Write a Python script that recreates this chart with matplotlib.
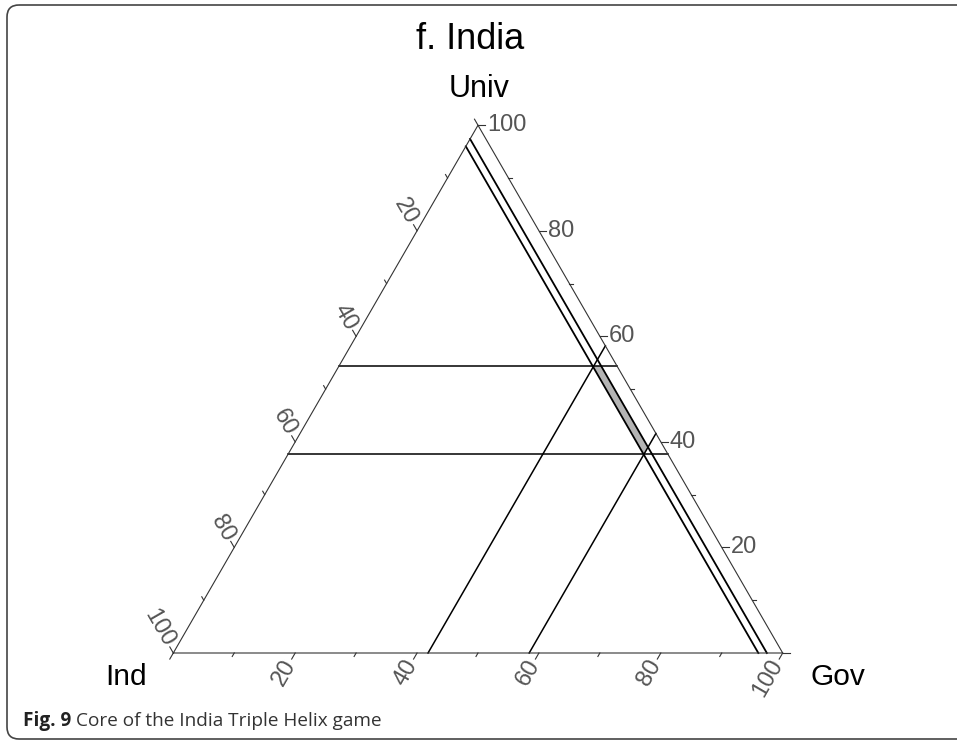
import numpy as np
import matplotlib
matplotlib.use('Agg')
import matplotlib.pyplot as plt
from matplotlib.patches import Polygon, FancyBboxPatch

### Data ###
TITLE = 'f. India'
CAPTION_BOLD = 'Fig. 9'
CAPTION = 'Core of the India Triple Helix game'
AXIS_NAMES = ['Univ', 'Ind', 'Gov']

univ_lines = [54.4, 37.7]   # Univ = const (horizontal)
gov_lines = [41.8, 58.4]    # Gov = const
ind_lines = [4.0, 2.6]      # Ind = const (close to the Univ-Gov edge)

major_ticks = [0, 20, 40, 60, 80, 100]
minor_ticks = [10, 30, 50, 70, 90]
tick_labels = ['', '20', '40', '60', '80', '100']

### Layout (pixel coords) ###
W, H = 957, 742
X0, Y0 = 173.3, 653.0      # Ind corner
SIDE = 609.4
HGT = SIDE * np.sqrt(3) / 2
MAJOR_LEN, MINOR_LEN = 7, 4
AXIS_COL = '#333333'
TICK_COL = '#555555'
FONT = 'Liberation Sans'


def tern(u, g):
    # u = Univ %, g = Gov %, Ind = 100 - u - g
    x = X0 + (g + u / 2) / 100 * SIDE
    y = Y0 - u / 100 * HGT
    return x, y


def clip(poly, f):
    # Sutherland-Hodgman with one half plane f(p) >= 0
    out = []
    n = len(poly)
    for i in range(n):
        p, q = poly[i], poly[(i + 1) % n]
        fp, fq = f(p), f(q)
        if fp >= 0:
            out.append(p)
        if fp * fq < 0:
            t = fp / (fp - fq)
            out.append((p[0] + t * (q[0] - p[0]), p[1] + t * (q[1] - p[1])))
    return out


fig = plt.figure(figsize=(W / 100, H / 100), dpi=100)
ax = fig.add_axes([0, 0, 1, 1])
ax.set_xlim(0, W)
ax.set_ylim(H, 0)
ax.axis('off')

# frame
ax.add_patch(FancyBboxPatch((7, 5), W + 20, 734, boxstyle='round,pad=0,rounding_size=12',
                            fc='none', ec='#444444', lw=1.2))

### Core region (gray) ###
core = [(0, 0), (100, 0), (0, 100)]
core = clip(core, lambda p: p[0] - min(univ_lines))
core = clip(core, lambda p: max(univ_lines) - p[0])
core = clip(core, lambda p: p[1] - min(gov_lines))
core = clip(core, lambda p: max(gov_lines) - p[1])
core = clip(core, lambda p: (100 - p[0] - p[1]) - min(ind_lines))
core = clip(core, lambda p: max(ind_lines) - (100 - p[0] - p[1]))
ax.add_patch(Polygon([tern(u, g) for u, g in core], closed=True, fc='#b4b4b4', ec='none', zorder=1))

### Lines ###
for u in univ_lines:
    (xa, ya), (xb, yb) = tern(u, 0), tern(u, 100 - u)
    ax.plot([xa, xb], [ya, yb], color='black', lw=1.1, zorder=2)
for g in gov_lines:
    (xa, ya), (xb, yb) = tern(0, g), tern(100 - g, g)
    ax.plot([xa, xb], [ya, yb], color='black', lw=1.1, zorder=2)
for i in ind_lines:
    (xa, ya), (xb, yb) = tern(100 - i, 0), tern(0, 100 - i)
    ax.plot([xa, xb], [ya, yb], color='black', lw=1.3, zorder=2)

### Triangle axes ###
corners = [tern(0, 0), tern(0, 100), tern(100, 0), tern(0, 0)]
ax.plot([c[0] for c in corners], [c[1] for c in corners], color=AXIS_COL, lw=0.8, zorder=3)

# (point on edge, tick direction, label rotation, ha)
axes_def = {
    'Gov': (lambda v: tern(0, v), (-0.5, np.sqrt(3) / 2), 60, 'right'),
    'Ind': (lambda v: tern(100 - v, 0), (-0.5, -np.sqrt(3) / 2), -60, 'right'),
    'Univ': (lambda v: tern(v, 100 - v), (1.0, 0.0), 0, 'left'),
}

for name, (pt, d, rot, ha) in axes_def.items():
    for v, lab in zip(major_ticks, tick_labels):
        x, y = pt(v)
        xe, ye = x + d[0] * MAJOR_LEN, y + d[1] * MAJOR_LEN
        ax.plot([x, xe], [y, ye], color=AXIS_COL, lw=0.8, zorder=3)
        if lab:
            ax.text(xe + d[0] * 2, ye + d[1] * 2, lab, rotation=rot, rotation_mode='anchor',
                    ha=ha, va='center', fontsize=17, color=TICK_COL, family=FONT)
    for v in minor_ticks:
        x, y = pt(v)
        ax.plot([x, x + d[0] * MINOR_LEN], [y, y + d[1] * MINOR_LEN], color=AXIS_COL, lw=0.8, zorder=3)

### Texts ###
ax.text(470, 49, TITLE, ha='center', va='baseline', fontsize=26, family=FONT, color='black')
ax.text(479, 97, AXIS_NAMES[0], ha='center', va='baseline', fontsize=22, family=FONT, color='black')
ax.text(147, 685, AXIS_NAMES[1], ha='right', va='baseline', fontsize=21.5, family=FONT, color='black')
ax.text(810, 685, AXIS_NAMES[2], ha='left', va='baseline', fontsize=21.5, family=FONT, color='black')

t1 = ax.text(23, 726, CAPTION_BOLD, ha='left', va='baseline', fontsize=13.7, family='Open Sans',
             weight='bold', color='#222222')
fig.canvas.draw()
bb = t1.get_window_extent()
ax.text(bb.x1 + 5, 726, CAPTION, ha='left', va='baseline', fontsize=13.7, family='Open Sans',
        color='#333333')

fig.savefig('out.png', dpi=100)
